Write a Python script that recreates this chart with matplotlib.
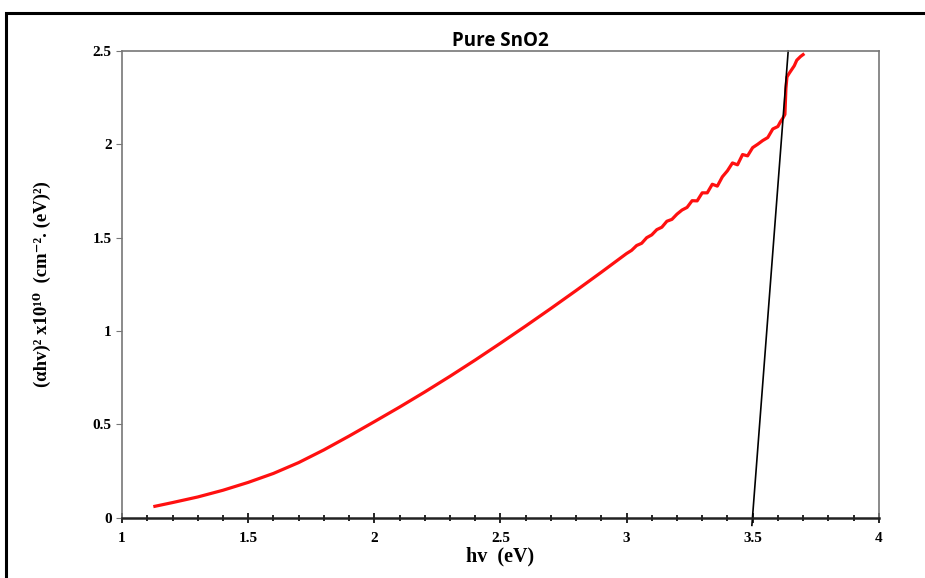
import numpy as np
import matplotlib.pyplot as plt
from matplotlib.patches import Rectangle
from matplotlib.ticker import MultipleLocator

# --- Tauc plot data ---
hv = [1.13, 1.2, 1.3, 1.4, 1.5, 1.6, 1.7, 1.8, 1.9, 2.0,
      2.1, 2.2, 2.3, 2.4, 2.5, 2.6, 2.7, 2.8, 2.9, 3.0,
      3.02, 3.04, 3.06, 3.08, 3.10, 3.12, 3.14, 3.16, 3.18, 3.20,
      3.22, 3.24, 3.26, 3.28, 3.30, 3.32, 3.34, 3.36, 3.38, 3.40,
      3.42, 3.44, 3.46, 3.48, 3.50, 3.52, 3.54, 3.56, 3.58, 3.60,
      3.61, 3.62, 3.628, 3.632, 3.636, 3.645, 3.655, 3.665, 3.675, 3.69, 3.70]
ahv2 = [0.062, 0.082, 0.112, 0.148, 0.190, 0.238, 0.296, 0.364, 0.438, 0.515,
        0.593, 0.674, 0.758, 0.845, 0.935, 1.027, 1.121, 1.217, 1.315, 1.415,
        1.432, 1.458, 1.470, 1.500, 1.515, 1.543, 1.556, 1.588, 1.598, 1.626,
        1.648, 1.662, 1.698, 1.697, 1.740, 1.740, 1.786, 1.776, 1.826, 1.858,
        1.900, 1.890, 1.945, 1.938, 1.982, 2.000, 2.020, 2.036, 2.082, 2.095,
        2.120, 2.140, 2.160, 2.300, 2.360, 2.380, 2.400, 2.420, 2.450, 2.470, 2.480]

# extrapolated linear fit -> band gap ~3.5 eV
fit_x = [3.497, 3.641]
fit_y = [-0.04, 2.5]

x_ticks = [1, 1.5, 2, 2.5, 3, 3.5, 4]
x_labels = ['1', '1.5', '2', '2.5', '3', '3.5', '4']
y_ticks = [0, 0.5, 1, 1.5, 2, 2.5]
y_labels = ['0', '0.5', '1', '1.5', '2', '2.5']

serif = ['Liberation Serif', 'DejaVu Serif']

fig = plt.figure(figsize=(9.25, 5.78), dpi=100)
ax = fig.add_axes([0.132, 0.104, 0.818, 0.808])

ax.plot(hv, ahv2, color='#ff1010', lw=2.3, solid_joinstyle='round')
ax.plot(fit_x, fit_y, color='black', lw=1.2, clip_on=False)

ax.set_xlim(1, 4)
ax.set_ylim(0, 2.5)
ax.set_xticks(x_ticks)
ax.set_xticklabels(x_labels)
ax.set_yticks(y_ticks)
ax.set_yticklabels(y_labels)
ax.xaxis.set_minor_locator(MultipleLocator(0.1))

ax.tick_params(axis='x', which='major', direction='inout', length=7, width=1.2, pad=7)
ax.tick_params(axis='x', which='minor', direction='inout', length=5, width=1.2)
ax.tick_params(axis='y', which='major', direction='out', length=4, width=0.8, color='#777777')
for lab in ax.get_xticklabels() + ax.get_yticklabels():
    lab.set_family(serif)
    lab.set_fontweight('bold')
    lab.set_fontsize(11)

for side in ['top', 'right', 'left']:
    ax.spines[side].set_color('#777777')
    ax.spines[side].set_linewidth(1.2)
ax.spines['bottom'].set_color('#222222')
ax.spines['bottom'].set_linewidth(1.8)

ax.set_title('Pure SnO2', fontsize=13.5, fontweight='bold', family=['Open Sans', 'DejaVu Sans'], pad=3)
ax.set_xlabel('hv  (eV)', fontsize=14.5, fontweight='bold', family=serif, labelpad=1)
ax.set_ylabel('(αhv)² x10¹⁰  (cm⁻². (eV)²)', fontsize=13.5, fontweight='bold',
              family=serif, labelpad=30)

# black frame around the whole picture
fig.patches.append(Rectangle((0.007, -0.02), 1.1, 0.997, transform=fig.transFigure,
                             fill=False, edgecolor='black', lw=2.2))

plt.savefig('out.png', dpi=100)
